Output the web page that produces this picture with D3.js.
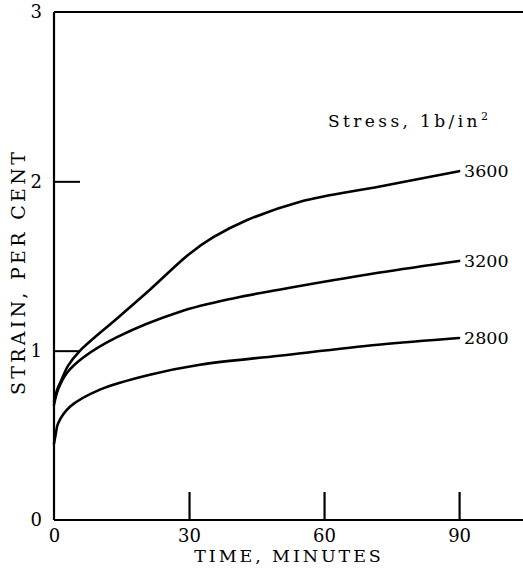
<!DOCTYPE html>
<html>
<head>
<meta charset="utf-8">
<script src="https://cdn.jsdelivr.net/npm/d3@7"></script>
<style>
  html, body { margin: 0; padding: 0; background: #fff; }
  svg { display: block; }
  text { font-family: "DejaVu Serif", "Liberation Serif", serif; fill: #000; }
</style>
</head>
<body>
<svg id="chart" width="523" height="569"></svg>
<script>
// Data
const xTicks = [0, 30, 60, 90];
const yTicks = [0, 1, 2, 3];
const seriesNames = ["3600", "3200", "2800"];
const time3600 = [0, 0.7, 1.7, 3.1, 5.8, 14, 21.3, 30, 35.4, 42.8, 54.7, 72.4, 90];
const strain3600 = [0.70, 0.77, 0.83, 0.91, 1.00, 1.19, 1.36, 1.57, 1.67, 1.77, 1.88, 1.97, 2.06];
const time3200 = [0, 0.9, 2.9, 6.5, 14, 28, 40, 50, 72, 90];
const strain3200 = [0.68, 0.77, 0.87, 0.96, 1.08, 1.23, 1.31, 1.36, 1.46, 1.53];
const time2800 = [0, 0.4, 0.9, 3.6, 10.2, 21.3, 32.4, 50, 72, 90];
const strain2800 = [0.45, 0.51, 0.57, 0.67, 0.77, 0.858, 0.917, 0.97, 1.035, 1.075];

const series = [
  { name: seriesNames[0], t: time3600, v: strain3600 },
  { name: seriesNames[1], t: time3200, v: strain3200 },
  { name: seriesNames[2], t: time2800, v: strain2800 }
];

const svg = d3.select("#chart");
const mLeft = 54, mRight = 523, mTop = 12, mBottom = 520;

const x = d3.scaleLinear().domain([0, 104.2]).range([mLeft, mRight]);
const y = d3.scaleLinear().domain([0, 3]).range([mBottom, mTop]);

// Frame lines: left, bottom, top
svg.append("line").attr("x1", mLeft).attr("x2", mLeft).attr("y1", mTop).attr("y2", mBottom)
  .attr("stroke", "#000").attr("stroke-width", 2.2);
svg.append("line").attr("x1", mLeft).attr("x2", mRight).attr("y1", mBottom).attr("y2", mBottom)
  .attr("stroke", "#000").attr("stroke-width", 2);
svg.append("line").attr("x1", mLeft).attr("x2", mRight).attr("y1", mTop).attr("y2", mTop)
  .attr("stroke", "#000").attr("stroke-width", 2);

// Y axis
const yAxis = d3.axisLeft(y).tickValues(yTicks).tickFormat(d3.format("d"))
  .tickSizeInner(-26).tickSizeOuter(0).tickPadding(12);
const gy = svg.append("g").attr("transform", `translate(${mLeft},0)`).call(yAxis);
gy.select(".domain").remove();
gy.selectAll(".tick line").attr("stroke", "#000").attr("stroke-width", 2)
  .attr("display", d => (d === 0 || d === 3) ? "none" : null);
gy.selectAll(".tick text").attr("font-size", 18).attr("font-family", "DejaVu Serif")
  .attr("fill", "#000");

// X axis
const xAxis = d3.axisBottom(x).tickValues(xTicks).tickFormat(d3.format("d"))
  .tickSizeInner(-28).tickSizeOuter(0).tickPadding(9);
const gx = svg.append("g").attr("transform", `translate(0,${mBottom})`).call(xAxis);
gx.select(".domain").remove();
gx.selectAll(".tick line").attr("stroke", "#000").attr("stroke-width", 2.2)
  .attr("display", d => d === 0 ? "none" : null);
gx.selectAll(".tick text").attr("font-size", 18).attr("font-family", "DejaVu Serif")
  .attr("fill", "#000");

// Curves
const line = d3.line().x(d => x(d[0])).y(d => y(d[1])).curve(d3.curveCatmullRom.alpha(0.5));
series.forEach(s => {
  const pts = s.t.map((t, i) => [t, s.v[i]]);
  svg.append("path").datum(pts).attr("d", line)
    .attr("fill", "none").attr("stroke", "#000").attr("stroke-width", 2.6)
    .attr("stroke-linecap", "round");
  const last = pts[pts.length - 1];
  svg.append("text").attr("x", x(last[0]) + 5).attr("y", y(last[1]))
    .attr("dy", "0.36em").attr("font-size", 17.5).text(s.name);
});

// Legend title
const st = svg.append("text").attr("x", 328).attr("y", 127).attr("font-size", 17)
  .attr("letter-spacing", 3.4);
st.append("tspan").text("Stress,  1b/in");
st.append("tspan").attr("font-size", 11).attr("dy", -7).attr("letter-spacing", 0).text("2");

// Axis titles
svg.append("text").attr("x", 289).attr("y", 562).attr("text-anchor", "middle")
  .attr("font-size", 17.5).attr("letter-spacing", 2.9).text("TIME,  MINUTES");
svg.append("text").attr("transform", "translate(25,272) rotate(-90)")
  .attr("text-anchor", "middle").attr("font-size", 19).attr("letter-spacing", 3.3)
  .text("STRAIN,  PER CENT");
</script>
</body>
</html>
